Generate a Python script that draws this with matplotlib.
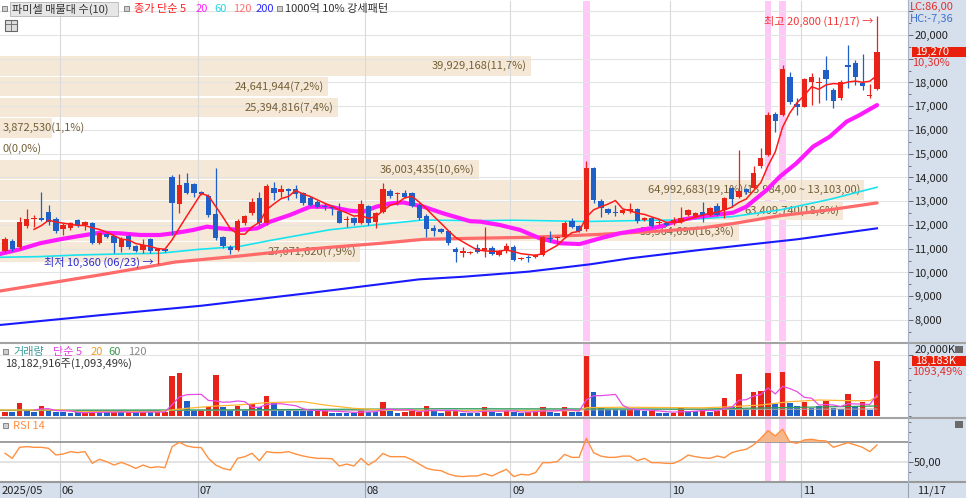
import numpy as np
import pandas as pd
import matplotlib
matplotlib.use("Agg")
import matplotlib.pyplot as plt
from matplotlib.patches import Rectangle
from matplotlib.lines import Line2D

plt.rcParams['font.family'] = ['Noto Sans CJK KR', 'DejaVu Sans']
plt.rcParams['axes.unicode_minus'] = False

# ---------------- data ----------------
opens = [10920,11340,11060,11960,12240,12280,12560,12240,11820,11860,
         12210,12000,12070,11260,11620,11540,11060,11540,11120,10950,
         11410,10920,10980,14010,12880,13780,13730,13380,13220,12460,
         11480,11090,10950,12070,12490,13120,12070,13540,13400,13520,
         13500,13330,13120,12980,12800,12770,12600,12210,12310,12070,
         12800,12140,12560,13430,13290,13360,13330,12840,12380,11860,
         11820,11750,10980,10840,10830,11020,10950,11050,10740,10900,
         11090,10580,10630,10670,10740,11460,11440,11480,12180,11960,
         11820,14390,13010,12660,12560,12520,12590,12660,12210,12280,
         12070,12100,12100,12140,12420,12350,12560,12420,12810,12630,
         13540,13190,13500,13540,14480,14950,16670,16630,18250,17100,
         16980,18040,17970,18530,17680,17330,18740,18840,17960,17420,
         17710]
highs = [11510,11420,12320,12670,12420,13400,12840,12320,12070,12140,
         12250,12170,12140,11700,11680,11580,11480,11600,11160,11400,
         11440,11050,11020,14100,14150,14180,13780,13420,13300,14390,
         11550,11150,12250,12420,13120,13400,13730,13830,13680,13540,
         13680,13400,13200,13050,12910,12840,12910,12380,12350,13050,
         12850,12560,13750,13500,13400,13470,13380,12910,12450,11990,
         11880,11800,11090,11090,10920,11200,11900,11100,10950,11230,
         11150,10670,10740,10780,11540,11750,11540,12170,12280,12000,
         14710,14450,13080,12700,12840,12680,12910,12700,12350,12330,
         12190,12150,12350,12770,12680,12560,12980,12750,12940,13160,
         13610,15160,13560,14480,15230,16770,16750,18740,18460,17330,
         18200,18390,18240,19120,17750,18100,19580,18950,19200,17950,
         20800]
lows = [10880,10900,11000,11860,11930,12150,12000,11680,11580,11800,
        11930,11790,11200,11200,11440,10840,10880,11000,10880,10810,
        10840,10360,10880,11580,12490,13300,13190,13250,12350,11370,
        11050,10770,10900,12000,12420,12000,12000,13050,13190,13050,
        13120,12850,12780,12700,12630,12420,12070,11930,12000,12040,
        12000,11860,12490,13150,12840,13120,12750,12210,11510,11540,
        11650,11150,10460,10670,10780,10810,10670,10740,10700,10810,
        10480,10540,10460,10620,10700,11300,11230,11440,11880,11700,
        11760,12910,12350,12450,12380,12480,12490,12100,12150,11900,
        12020,11950,12000,12100,12380,12300,12140,12380,12380,12280,
        12770,13150,13300,13500,14400,14900,15930,16600,17100,16630,
        16950,17050,17120,17260,16910,17280,17750,17900,17680,17340,
        17700]
closes = [11410,10975,12140,12240,12310,12210,12110,11760,12000,12070,
          11970,12110,11260,11650,11480,11230,11410,11060,10920,11160,
          10920,10980,10920,12910,13680,13360,13360,13310,12420,11440,
          11120,10950,12170,12380,12980,12070,13640,13360,13500,13450,
          13310,12910,12840,12770,12740,12700,12100,12270,12070,12870,
          12070,12490,13500,13220,13330,13190,12800,12280,11820,11750,
          11720,11230,10880,10880,10870,10880,11050,10780,10900,11130,
          10530,10630,10590,10740,11480,11420,11480,12070,11930,11760,
          14390,13050,12700,12520,12490,12630,12660,12170,12280,11960,
          12140,12000,12210,12280,12630,12520,12420,12700,12420,13120,
          13080,13450,13400,14180,14810,16630,16390,18580,17190,16980,
          18140,18220,18040,18130,17240,18040,18640,18250,17870,17470,
          19270]

volume_k = [1210,1430,4290,1650,1210,3300,1650,1210,1210,880,
            1210,880,1650,1430,1210,1210,1210,1210,1210,1430,
            1430,1210,1430,13200,14300,4950,1650,1650,3080,13530,
            2860,1980,3300,1980,3960,3080,6600,4400,2200,2200,
            1650,1650,1650,1980,1650,1100,1100,1100,1100,1980,
            1430,1430,4620,1760,880,1430,1650,1430,3300,1760,
            1100,1650,1650,1100,1100,1100,3080,1430,1100,1650,
            1320,1100,1430,1650,2970,1320,1100,2970,1430,1320,
            19800,8030,2970,2420,2420,1980,1980,1980,1760,1650,
            880,880,1100,2530,1650,1650,1980,1430,1760,5830,
            3300,13750,2200,7810,8360,14080,3960,14630,4180,3300,
            4730,2530,3300,5060,2530,2200,7260,2860,4730,1980,
            18183]
volume_colors = ("rbrbbrbbbb" "brrbbrbrbr" "brrrrbbrrr" "bbrbrbrbbb"
                 "bbbrrbbbbr" "bbrbbrrrrb" "brrbbbrbbr" "bbrrrbbrbb"
                 "rbbbbbrbbr" "bbrrbbrbrr" "brbrrrbrbb" "rbbrbbrbrb" "r")

rsi14 = [58.5,53.4,64.6,65.3,64.6,64.6,63.6,56.8,57.8,60.2,
         59.2,60.2,48.4,52.4,50.0,46.6,49.3,46.6,43.2,46.6,
         43.9,44.9,43.9,65.3,69.7,66.0,64.6,64.3,53.4,46.6,
         43.2,41.5,53.4,55.1,58.5,51.0,60.2,59.2,59.2,60.2,
         57.8,55.8,54.4,53.4,53.4,53.0,45.6,47.6,45.6,53.4,
         46.6,51.0,58.4,55.1,55.1,55.1,52.0,47.6,43.3,41.6,
         40.9,37.5,35.5,34.9,35.5,35.5,37.9,35.5,39.0,42.3,
         34.9,37.2,36.5,38.9,49.0,49.0,50.0,57.4,54.4,54.4,
         73.7,59.1,55.7,54.4,54.4,55.7,55.7,51.0,53.4,49.0,
         49.0,48.3,48.3,51.7,56.7,55.1,54.0,53.4,55.8,54.0,
         59.2,61.2,62.6,67.0,73.8,81.6,76.2,83.0,70.0,68.7,
         72.1,72.8,71.4,71.0,64.6,67.0,69.3,67.0,64.6,60.2,
         67.0]

# moving-average lines (day index, value)
ma20_at = [-0.7,2.1,4.8,7.6,10.3,13.1,15.8,18.6,21.3,23.2,25.9,27.8,29.6,32.3,
           34.7,36.5,39.2,42.0,44.7,47.5,49.3,51.1,53.0,54.8,57.6,60.3,64.0,
           65.4,68.1,70.9,73.6,76.4,79.1,81.9,84.6,87.4,90.1,92.9,95.6,97.5,
           100.2,102.0,104.8,106.6,108.9,111.2,113.5,115.8,117.6,120.0]
ma20_val = [10780,10980,11230,11400,11540,11680,11650,11580,11580,11650,11790,11930,11860,11790,
            11860,12140,12420,12770,12770,12600,12560,12770,12910,12950,12770,12490,12160,
            12140,12000,11790,11440,11230,11200,11440,11650,11790,11930,12210,12350,12420,
            12520,12770,13470,14030,14600,15300,15720,16350,16630,17050]
ma60_at = [-0.7,4.8,10.3,15.8,21.3,26.5,32.3,36.5,44.7,53.0,57.6,64.0,70.0,80.0,90.0,
           93.0,100.0,106.6,113.5,120.0]
ma60_val = [10640,10670,10740,10780,10810,10970,11100,11350,11800,12070,12210,12180,12200,
            12150,12200,12210,12350,12630,13080,13590]
ma120_at = [-0.7,13.0,23.4,32.3,37.9,44.7,51.6,57.6,64.0,72.0,81.5,91.0,96.0,100.0,
            106.6,113.0,120.0]
ma120_val = [9220,9895,10440,10695,10877,11060,11228,11397,11439,11481,11600,11760,11880,
             12050,12390,12620,12930]
ma200_at = [-0.7,13.0,27.0,42.0,57.0,63.0,72.0,80.5,86.0,95.6,109.0,120.0]
ma200_val = [7790,8200,8600,9140,9712,9820,10035,10344,10597,10948,11398,11860]

vma20_at = [-0.7,8,10,21,23,25,29,32,36,41,44,48,52,60,79,80,85,96,100,104,108,112,116,119,120]
vma20_val = [1980,1980,1430,1430,2000,2530,3300,3630,4400,4730,3630,2530,2000,1760,1760,
             2750,2900,2700,3080,3630,4730,5280,5060,5060,6380]
vma60_at = [-0.7,30,60,96,110,120]
vma60_val = [1900,2000,2400,2300,2900,3300]
vma120_at = [-0.7,60,120]
vma120_val = [1800,1900,2300]

# volume profile (10 price bands, bottom -> top)
profile_volume = [27071620, 55564690, 63409740, 64992683, 36003435,
                  0, 3872530, 25394816, 24641944, 39929168]
profile_low, profile_high = 10430, 19130
profile_max_range_text = "(13,984,00 ~ 13,103,00)"

month_labels = ["2025/05", "06", "07", "08", "09", "10", "11"]
month_start = [0, 8, 27, 50, 70, 92, 110]
last_date = "11/17"
highlight_days = [80, 105, 107]

high_label = "최고 20,800 (11/17) →"
low_label = "최저 10,360 (06/23) →"
high_day, high_price = 120, 20800
low_day, low_price = 21, 10360

last_close, change_pct = 19270, 10.30
last_vol_k, vol_pct = 18183, 1093.49
lc_text, hc_text = "LC:86,00", "HC:-7,36"
vol_text = "18,182,916주(1,093,49%)"

# ---------------- style ----------------
RED = '#e8231a'
BLUE = '#1f5fc8'
BEIGE = '#f5e8d6'
PTXT = '#735f37'
GRID = '#e3e3e3'
PANEL = '#d6e0ed'
PINK = '#ffc8f5'

W, H = 966, 498
fig = plt.figure(figsize=(W / 100, H / 100), dpi=100)
fig.patch.set_facecolor('white')

PANEL_R = 908
X0, STEP = 5.0, 7.267


def add_ax(top, bot):
    return fig.add_axes([0, 1 - bot / H, PANEL_R / W, (bot - top) / H])


def frect(x, y, w, h, **kw):
    fig.add_artist(Rectangle((x / W, 1 - (y + h) / H), w / W, h / H,
                             transform=fig.transFigure, **kw))


def ftext(x, y, s, **kw):
    kw.setdefault('va', 'center')
    kw.setdefault('fontsize', 8)
    fig.text(x / W, 1 - y / H, s, **kw)


def fline(x0, y0, x1, y1, **kw):
    fig.add_artist(Line2D([x0 / W, x1 / W], [1 - y0 / H, 1 - y1 / H],
                          transform=fig.transFigure, **kw))


# backgrounds of right panel and bottom strip
frect(PANEL_R, 0, W - PANEL_R, H, facecolor=PANEL, edgecolor='none', zorder=-5)
frect(0, 483, W, 15, facecolor=PANEL, edgecolor='none', zorder=-5)

ax = add_ax(1, 341)
axv = add_ax(344, 417)
axr = add_ax(418, 481)

xlim = (-X0 / STEP, (PANEL_R - X0) / STEP)
for a in (ax, axv, axr):
    a.set_xlim(*xlim)
    a.set_facecolor('white')
    for s in a.spines.values():
        s.set_visible(False)
    a.set_xticks([])
    a.yaxis.tick_right()
    a.tick_params(axis='y', which='both', direction='out', colors='#666666',
                  labelcolor='#222222', labelsize=8, pad=0.8)
    a.tick_params(axis='y', which='major', length=3.6, width=0.7)
    a.tick_params(axis='y', which='minor', length=2.2, width=0.6)

ax.set_ylim(20000 - (341 - 35) / 0.02375, 20000 + (35 - 1) / 0.02375)
axv.set_ylim(-(417 - 416) / 0.00303, (416 - 344) / 0.00303)
axr.set_ylim(70 - (481 - 442) / 0.985, 70 + (442 - 418) / 0.985)

n = len(closes)
x = np.arange(n)
o = np.array(opens, float)
h = np.array(highs, float)
l = np.array(lows, float)
c = np.array(closes, float)

# pink highlight days
for a in (ax, axv, axr):
    for d in highlight_days:
        a.axvspan(d - 0.45, d + 0.45, color=PINK, lw=0, zorder=0.2)

# grid
for p in range(8000, 21001, 1000):
    ax.axhline(p, color=GRID, lw=0.8, zorder=1)
for m in month_start[1:]:
    for a in (ax, axv, axr):
        a.axvline(m - 0.5, color='#dadada', lw=0.8, zorder=1)
axv.axhline(20000, color=GRID, lw=0.8, zorder=1)
axr.axhline(50, color='#dedede', lw=1.2, zorder=1)
axr.axhline(70, color='#8f8f8f', lw=1.2, zorder=1.2)

# volume profile bars
edges = np.linspace(profile_low, profile_high, len(profile_volume) + 1)
bstep = edges[1] - edges[0]
centers = edges[:-1] + bstep / 2
PX_PER_M = 13.3
pv = np.array(profile_volume, float)
bar_w = pv / 1e6 * PX_PER_M / STEP
ax.barh(centers, bar_w, left=xlim[0], height=bstep * 0.94, color=BEIGE,
        lw=0, zorder=0.5)
total = pv.sum()
for i, v in enumerate(profile_volume):
    pct = f"{v / total * 100:.1f}".replace('.', ',')
    lab = f"{v:,}({pct}%)"
    if v == max(profile_volume):
        lab += profile_max_range_text
    if bar_w[i] * STEP >= 110:
        ax.text(xlim[0] + bar_w[i] - 4 / STEP, centers[i], lab, ha='right',
                va='center', color=PTXT, fontsize=8, zorder=1.5)
    else:
        ax.text(xlim[0] + 3 / STEP, centers[i], lab, ha='left',
                va='center', color=PTXT, fontsize=8, zorder=1.5)

# moving averages
ax.plot(ma200_at, ma200_val, color='#1a1aff', lw=1.5, zorder=2.2)
ax.plot(ma120_at, ma120_val, color='#ff6a6a', lw=2.3, zorder=2.3,
        solid_capstyle='round')
ax.plot(ma60_at, ma60_val, color='#19e3ee', lw=1.2, zorder=2.4)
ax.plot(ma20_at, ma20_val, color='#ff1aff', lw=3.0, zorder=2.5,
        solid_capstyle='round', solid_joinstyle='round')

# candles
up = c >= o
cols = np.where(up, RED, BLUE)
ax.vlines(x, l, h, colors=cols, lw=0.9, zorder=3)
bottom = np.minimum(o, c)
height = np.maximum(np.abs(c - o), 45)
ax.bar(x, height, bottom=bottom, width=0.74, color=cols, lw=0, zorder=3.1)

ma5 = pd.Series(closes, dtype=float).rolling(5).mean()
ax.plot(x, ma5, color='#ff1a1a', lw=1.1, zorder=4)

# high / low annotations
ax.text(high_day - 0.45, high_price - 210, high_label, ha='right', va='center',
        color='#f03535', fontsize=8, zorder=6)
ax.text(low_day - 0.5, low_price + 80, low_label, ha='right', va='center',
        color='#2b2bd0', fontsize=8, zorder=6)

# price axis ticks
major = list(range(8000, 21001, 1000))
ax.set_yticks(major)
ax.set_yticklabels(["" if p in (19000, 21000) else f"{p:,}" for p in major])
ax.set_yticks(list(range(7500, 21001, 500)), minor=True)

# volume panel
vcols = [RED if ch == 'r' else BLUE for ch in volume_colors]
axv.bar(x, volume_k, width=0.78, color=vcols, lw=0, zorder=3)
vma5 = pd.Series(volume_k, dtype=float).rolling(5).mean()
axv.plot(vma120_at, vma120_val, color='#a8a8a8', lw=0.8, zorder=4)
axv.plot(vma60_at, vma60_val, color='#2f9e5a', lw=0.9, zorder=4.1)
axv.plot(vma20_at, vma20_val, color='#ffb733', lw=0.9, zorder=4.2)
axv.plot(x, vma5, color='#e64ce6', lw=0.9, zorder=4.3)
axv.set_yticks([20000])
axv.set_yticklabels(["20,000K"], va='bottom')
axv.set_yticks(list(range(0, 20001, 4000)), minor=True)

# RSI panel
r = np.array(rsi14)
axr.fill_between(x, r, 70, where=r >= 70, interpolate=True, color='#f6b78c',
                 lw=0, zorder=2)
axr.plot(x, r, color='#ff9040', lw=1.0, zorder=3)
axr.set_yticks([50])
axr.set_yticklabels(["50,00"])
axr.set_yticks([40, 60, 70, 80, 90], minor=True)

# separators
fline(0, 342.5, W, 342.5, color='#a3a3a3', lw=1.5, zorder=4)
fline(0, 417.6, W, 417.6, color='#a3a3a3', lw=1.5, zorder=4)
fline(0, 482.3, W, 482.3, color='#9a9a9a', lw=1.5, zorder=4)
fline(PANEL_R, 0, PANEL_R, 483, color='#a7b1c0', lw=0.8, zorder=4)

# bottom strip labels
for lab, m in zip(month_labels, month_start):
    gx = X0 + STEP * (m - 0.5)
    if m == 0:
        ftext(2, 491, lab, color='#222222')
    else:
        fline(gx, 483, gx, 498, color='#98a2b2', lw=0.8)
        ftext(gx + 2, 491, lab, color='#222222')
fline(PANEL_R, 483, PANEL_R, 498, color='#98a2b2', lw=0.8)
ftext(917, 491, last_date, color='#222222')


def data_py(a, v):
    return H - a.transData.transform((0, v))[1]


# right panel boxes / texts
ftext(910, 7, lc_text, color='#e03030')
ftext(910, 19, hc_text, color='#3f72d0')
py = data_py(ax, last_close)
frect(912, py - 5, W - 912, 10, facecolor='#e8200c', edgecolor='none', zorder=5)
ftext(915, py, f"{last_close:,}", color='white', zorder=6)
ftext(912, py + 11, f"{change_pct:.2f}%".replace('.', ','), color='#e03030', zorder=6)

pyv = data_py(axv, last_vol_k)
frect(912, pyv - 4.5, W - 912, 10, facecolor='#e8200c', edgecolor='none', zorder=5)
ftext(915, pyv + 0.5, f"{last_vol_k:,}K", color='white', zorder=6)
ftext(912, pyv + 11.5, f"{vol_pct:.2f}%".replace('.', ','), color='#e03030', zorder=6)

# small icons
frect(955, 346, 8, 7, facecolor='#6a6a6a', edgecolor='none', zorder=6)
frect(955, 421, 8, 7, facecolor='#6a6a6a', edgecolor='none', zorder=6)
frect(5, 20, 12, 11, facecolor='#dcdcdc', edgecolor='#666666', lw=0.8, zorder=6)
fline(5, 24, 17, 24, color='#666666', lw=0.6, zorder=7)
fline(11, 20, 11, 31, color='#666666', lw=0.6, zorder=7)

# top legend
SQ = dict(facecolor='#cfcfcf', edgecolor='#777777', lw=0.6, zorder=6)
frect(2, 6, 5, 5, **SQ)
frect(10, 2, 108, 14, facecolor='#e6e6e6', edgecolor='#b5b5b5', lw=0.6, zorder=5)
ftext(12, 9, "파미셀 매물대 수(10)", color='#333333', zorder=6)
frect(124, 6, 5, 5, **SQ)
ftext(134, 9, "종가 단순 5", color='#ff2020', zorder=6)
ftext(196, 9, "20", color='#ff22ff', zorder=6)
ftext(214, 9, "60", color='#22d5e5', zorder=6)
ftext(233, 9, "120", color='#ff7070', zorder=6)
ftext(256, 9, "200", color='#2a2aff', zorder=6)
frect(277, 6, 5, 5, **SQ)
ftext(285, 9, "1000억 10% 강세패턴", color='#333333', zorder=6)

# volume legend
frect(3, 349, 5, 5, **SQ)
ftext(13, 352, "거래량", color='#3a9c9c', zorder=6)
ftext(53, 352, "단순 5", color='#e040e0', zorder=6)
ftext(91, 352, "20", color='#f0a020', zorder=6)
ftext(108, 352, "60", color='#3a9a50', zorder=6)
ftext(128, 352, "120", color='#888888', zorder=6)
ftext(5, 364, vol_text, color='#333333', zorder=6)

# RSI legend
frect(3, 423, 5, 5, **SQ)
ftext(13, 426, "RSI 14", color='#ff8c40', zorder=6)

fig.savefig("out.png", dpi=100)
